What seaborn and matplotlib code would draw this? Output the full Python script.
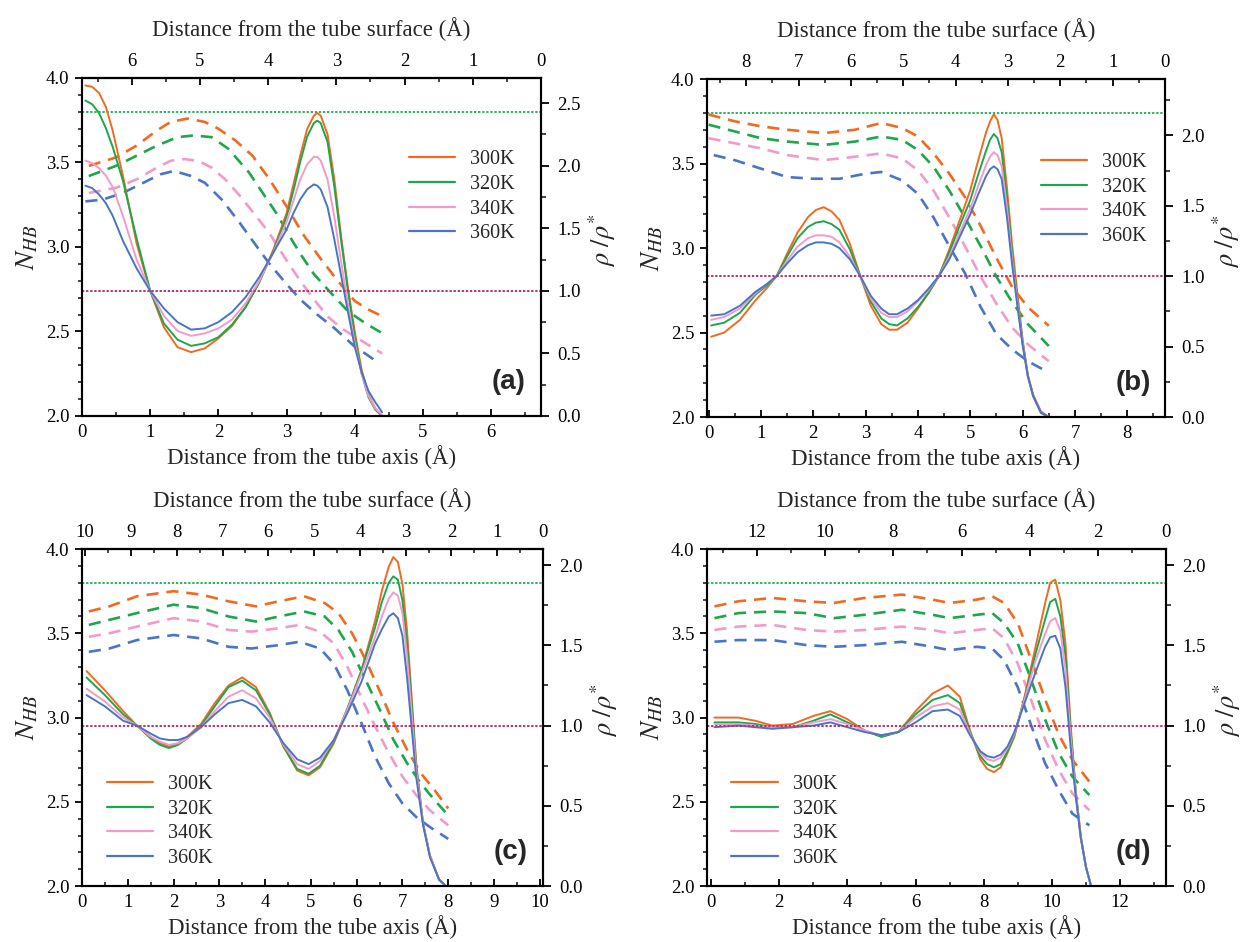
import seaborn as sns
import matplotlib.pyplot as plt
from matplotlib.ticker import MultipleLocator
from matplotlib.lines import Line2D

sns.set_theme(style='ticks')
plt.rcParams['font.family'] = ['Liberation Serif', 'DejaVu Serif']
plt.rcParams['mathtext.fontset'] = 'stix'

TEMPS = ['300K', '320K', '340K', '360K']
COLORS = ['#F26A22', '#1FA64C', '#F49AC9', '#4A74C6']
GREEN_REF = '#2DB45E'
PURPLE_REF = '#C0306E'

# ---------------- panel (a) ----------------
A_R_RHO = [0.05, 0.15, 0.25, 0.35, 0.45, 0.6, 0.8, 1.0, 1.2, 1.4, 1.6, 1.8, 2.0, 2.2, 2.4,
           2.6, 2.8, 3.0, 3.1, 3.2, 3.3, 3.4, 3.45, 3.5, 3.6, 3.7, 3.8, 3.9, 4.0, 4.1, 4.2,
           4.3, 4.4]
A_RHO_300 = [2.64, 2.63, 2.58, 2.47, 2.28, 1.92, 1.38, 1.0, 0.71, 0.55, 0.51, 0.54, 0.62, 0.72,
             0.87, 1.07, 1.32, 1.62, 1.85, 2.08, 2.29, 2.40, 2.42, 2.40, 2.25, 1.89, 1.43, 1.02,
             0.67, 0.37, 0.17, 0.06, 0.0]
A_RHO_320 = [2.52, 2.49, 2.42, 2.30, 2.15, 1.88, 1.42, 1.0, 0.74, 0.61, 0.56, 0.58, 0.63, 0.73,
             0.87, 1.07, 1.31, 1.59, 1.80, 2.03, 2.23, 2.34, 2.36, 2.34, 2.19, 1.83, 1.40, 1.00,
             0.63, 0.34, 0.15, 0.05, 0.0]
A_RHO_340 = [2.04, 2.02, 1.98, 1.92, 1.83, 1.60, 1.25, 1.0, 0.80, 0.68, 0.64, 0.66, 0.70, 0.77,
             0.90, 1.08, 1.30, 1.55, 1.72, 1.89, 2.01, 2.07, 2.07, 2.04, 1.89, 1.59, 1.23, 0.89,
             0.58, 0.34, 0.16, 0.06, 0.01]
A_RHO_360 = [1.84, 1.82, 1.77, 1.70, 1.60, 1.40, 1.18, 1.0, 0.86, 0.75, 0.69, 0.70, 0.75, 0.83,
             0.95, 1.11, 1.30, 1.49, 1.62, 1.73, 1.81, 1.85, 1.84, 1.81, 1.67, 1.41, 1.12, 0.83,
             0.55, 0.35, 0.20, 0.11, 0.03]

A_R_NHB_300 = [0.1, 0.5, 0.8, 1.1, 1.3, 1.55, 1.8, 2.0, 2.25, 2.5, 2.75, 3.0, 3.25, 3.5, 3.75,
               4.0, 4.2, 4.4]
A_NHB_300 = [3.48, 3.53, 3.60, 3.69, 3.74, 3.76, 3.74, 3.70, 3.63, 3.54, 3.40, 3.24, 3.07, 2.93,
             2.80, 2.68, 2.63, 2.59]
A_R_NHB_320 = [0.1, 0.5, 0.8, 1.1, 1.4, 1.64, 1.9, 2.15, 2.45, 2.65, 2.85, 3.05, 3.2, 3.4, 3.6,
               3.9, 4.15, 4.4]
A_NHB_320 = [3.42, 3.48, 3.54, 3.60, 3.65, 3.66, 3.65, 3.58, 3.44, 3.32, 3.20, 3.06, 2.96, 2.84,
             2.75, 2.62, 2.55, 2.49]
A_R_NHB_340 = [0.1, 0.5, 0.8, 1.1, 1.3, 1.5, 1.7, 1.9, 2.1, 2.3, 2.5, 2.75, 3.0, 3.2, 3.4, 3.6,
               3.8, 4.0, 4.2, 4.4]
A_NHB_340 = [3.32, 3.35, 3.40, 3.47, 3.51, 3.52, 3.51, 3.47, 3.40, 3.31, 3.21, 3.08, 2.92, 2.80,
             2.69, 2.59, 2.52, 2.47, 2.42, 2.37]
A_R_NHB_360 = [0.05, 0.3, 0.6, 0.9, 1.15, 1.35, 1.6, 1.8, 2.05, 2.3, 2.55, 2.75, 3.0, 3.2, 3.45,
               3.7, 4.0, 4.15, 4.33]
A_NHB_360 = [3.27, 3.28, 3.32, 3.38, 3.43, 3.45, 3.42, 3.38, 3.28, 3.15, 3.01, 2.90, 2.78, 2.69,
             2.60, 2.52, 2.41, 2.37, 2.32]

# ---------------- panel (b) ----------------
B_R_RHO = [0.05, 0.3, 0.6, 0.9, 1.1, 1.3, 1.5, 1.7, 1.9, 2.05, 2.2, 2.35, 2.5, 2.7, 2.9, 3.1,
           3.3, 3.45, 3.6, 3.8, 4.0, 4.2, 4.4, 4.6, 4.8, 5.0, 5.15, 5.3, 5.38, 5.45, 5.52, 5.6,
           5.7, 5.8, 5.9, 6.0, 6.1, 6.2, 6.35, 6.5]
B_RHO_300 = [0.57, 0.60, 0.69, 0.83, 0.91, 1.0, 1.16, 1.31, 1.42, 1.47, 1.49, 1.46, 1.40, 1.23,
             1.0, 0.79, 0.66, 0.62, 0.62, 0.67, 0.77, 0.88, 1.0, 1.19, 1.40, 1.61, 1.82, 2.02,
             2.10, 2.15, 2.11, 1.98, 1.63, 1.22, 0.88, 0.55, 0.30, 0.16, 0.04, 0.0]
B_RHO_320 = [0.65, 0.67, 0.74, 0.87, 0.93, 1.0, 1.14, 1.27, 1.35, 1.38, 1.39, 1.37, 1.33, 1.19,
             1.0, 0.82, 0.70, 0.66, 0.65, 0.70, 0.78, 0.88, 1.0, 1.17, 1.36, 1.54, 1.72, 1.89,
             1.97, 2.01, 1.98, 1.88, 1.56, 1.16, 0.83, 0.53, 0.29, 0.15, 0.03, 0.0]
B_RHO_340 = [0.69, 0.71, 0.77, 0.88, 0.94, 1.0, 1.11, 1.21, 1.27, 1.29, 1.29, 1.28, 1.24, 1.14,
             1.0, 0.84, 0.74, 0.71, 0.71, 0.75, 0.82, 0.90, 1.0, 1.14, 1.31, 1.48, 1.64, 1.79,
             1.85, 1.88, 1.86, 1.78, 1.49, 1.12, 0.81, 0.52, 0.29, 0.15, 0.03, 0.0]
B_RHO_360 = [0.72, 0.73, 0.79, 0.89, 0.94, 1.0, 1.09, 1.17, 1.22, 1.24, 1.24, 1.23, 1.20, 1.12,
             1.0, 0.86, 0.77, 0.73, 0.73, 0.77, 0.83, 0.91, 1.0, 1.12, 1.28, 1.44, 1.58, 1.71,
             1.76, 1.78, 1.76, 1.69, 1.42, 1.08, 0.79, 0.51, 0.29, 0.15, 0.03, 0.0]

B_R_NHB = [0.0, 0.5, 1.0, 1.5, 2.2, 2.8, 3.3, 3.7, 4.0, 4.3, 4.6, 4.9, 5.2, 5.5, 5.8, 6.1, 6.5]
B_NHB_300 = [3.79, 3.75, 3.72, 3.70, 3.68, 3.70, 3.74, 3.71, 3.66, 3.56, 3.44, 3.30, 3.13,
             2.94, 2.77, 2.65, 2.54]
B_NHB_320 = [3.73, 3.69, 3.65, 3.63, 3.61, 3.63, 3.66, 3.64, 3.58, 3.48, 3.34, 3.18, 3.01,
             2.83, 2.68, 2.55, 2.42]
B_NHB_340 = [3.65, 3.62, 3.59, 3.55, 3.52, 3.54, 3.56, 3.53, 3.46, 3.34, 3.18, 3.01, 2.83,
             2.67, 2.53, 2.43, 2.33]
B_R_NHB_360 = [0.1, 0.5, 1.0, 1.5, 2.0, 2.5, 3.0, 3.3, 3.7, 4.0, 4.3, 4.6, 4.9, 5.2, 5.5,
               5.8, 6.1, 6.4]
B_NHB_360 = [3.55, 3.52, 3.47, 3.42, 3.41, 3.41, 3.44, 3.45, 3.40, 3.32, 3.18, 3.01, 2.85,
             2.65, 2.49, 2.40, 2.33, 2.28]

# ---------------- panel (c) ----------------
C_R_RHO = [0.1, 0.5, 0.9, 1.2, 1.5, 1.7, 1.9, 2.1, 2.3, 2.6, 2.9, 3.2, 3.5, 3.8, 4.1, 4.4,
           4.7, 4.95, 5.2, 5.5, 5.8, 6.1, 6.4, 6.55, 6.7, 6.8, 6.9, 7.0, 7.1, 7.2, 7.3, 7.45,
           7.6, 7.8, 7.95]
C_RHO_300 = [1.34, 1.22, 1.09, 1.0, 0.93, 0.89, 0.87, 0.89, 0.93, 1.01, 1.14, 1.25, 1.30, 1.24,
             1.08, 0.87, 0.72, 0.69, 0.74, 0.89, 1.10, 1.34, 1.65, 1.84, 1.99, 2.05, 2.02, 1.88,
             1.59, 1.18, 0.77, 0.39, 0.19, 0.04, 0.0]
C_RHO_320 = [1.30, 1.19, 1.07, 1.0, 0.92, 0.88, 0.86, 0.88, 0.92, 1.00, 1.12, 1.24, 1.28, 1.22,
             1.07, 0.87, 0.73, 0.70, 0.75, 0.90, 1.11, 1.34, 1.61, 1.77, 1.89, 1.93, 1.91, 1.78,
             1.51, 1.14, 0.74, 0.39, 0.19, 0.04, 0.0]
C_RHO_340 = [1.23, 1.15, 1.05, 1.0, 0.93, 0.90, 0.88, 0.89, 0.92, 0.99, 1.09, 1.18, 1.22, 1.17,
             1.05, 0.88, 0.76, 0.73, 0.78, 0.91, 1.10, 1.32, 1.55, 1.68, 1.79, 1.83, 1.81, 1.70,
             1.43, 1.08, 0.72, 0.39, 0.19, 0.04, 0.0]
C_RHO_360 = [1.19, 1.12, 1.03, 1.0, 0.95, 0.92, 0.91, 0.91, 0.93, 0.99, 1.07, 1.14, 1.16, 1.12,
             1.02, 0.89, 0.79, 0.76, 0.80, 0.91, 1.08, 1.27, 1.51, 1.60, 1.68, 1.70, 1.67, 1.56,
             1.30, 0.99, 0.68, 0.38, 0.18, 0.04, 0.0]

C_R_NHB_A = [0.15, 0.6, 1.2, 2.0, 2.6, 3.2, 3.8, 4.3, 4.85, 5.3, 5.6, 5.9, 6.2, 6.5, 6.8,
             7.1, 7.4, 7.7, 8.0]
C_NHB_300 = [3.63, 3.66, 3.72, 3.75, 3.73, 3.69, 3.66, 3.69, 3.72, 3.68, 3.62, 3.50, 3.34,
             3.16, 2.97, 2.81, 2.67, 2.57, 2.46]
C_NHB_320 = [3.55, 3.58, 3.62, 3.67, 3.65, 3.60, 3.57, 3.60, 3.63, 3.60, 3.52, 3.39, 3.22,
             3.05, 2.87, 2.73, 2.61, 2.51, 2.42]
C_R_NHB_B = [0.15, 0.6, 1.2, 2.0, 2.6, 3.2, 3.7, 4.3, 4.75, 5.2, 5.5, 5.8, 6.1, 6.4, 6.7,
             7.0, 7.3, 7.6, 8.0]
C_NHB_340 = [3.48, 3.50, 3.54, 3.59, 3.57, 3.52, 3.51, 3.53, 3.55, 3.51, 3.44, 3.30, 3.12,
             2.95, 2.79, 2.65, 2.54, 2.45, 2.36]
C_NHB_360 = [3.39, 3.41, 3.46, 3.49, 3.47, 3.42, 3.41, 3.43, 3.45, 3.41, 3.32, 3.16, 2.97,
             2.77, 2.61, 2.49, 2.41, 2.35, 2.28]

# ---------------- panel (d) ----------------
D_R_RHO = [0.1, 0.8, 1.3, 1.8, 2.4, 3.0, 3.5, 4.0, 4.5, 5.0, 5.5, 6.0, 6.5, 6.95, 7.3, 7.6,
           7.9, 8.1, 8.3, 8.5, 8.7, 8.9, 9.2, 9.5, 9.8, 9.95, 10.1, 10.25, 10.4, 10.55, 10.7,
           10.85, 11.0, 11.15]
D_RHO_300 = [1.05, 1.05, 1.03, 1.00, 1.01, 1.06, 1.09, 1.04, 0.97, 0.93, 0.96, 1.09, 1.20,
             1.25, 1.18, 0.97, 0.79, 0.73, 0.71, 0.74, 0.83, 0.93, 1.18, 1.47, 1.76, 1.89,
             1.91, 1.78, 1.51, 1.01, 0.60, 0.31, 0.12, 0.0]
D_RHO_320 = [1.02, 1.02, 1.01, 0.99, 0.99, 1.03, 1.07, 1.02, 0.97, 0.93, 0.96, 1.07, 1.16,
             1.19, 1.14, 0.96, 0.81, 0.76, 0.74, 0.76, 0.84, 0.94, 1.17, 1.43, 1.66, 1.77,
             1.79, 1.68, 1.43, 0.97, 0.59, 0.30, 0.12, 0.0]
D_RHO_340 = [1.01, 1.01, 1.00, 0.99, 0.99, 1.02, 1.04, 1.01, 0.97, 0.94, 0.96, 1.05, 1.12,
             1.14, 1.10, 0.95, 0.83, 0.79, 0.78, 0.80, 0.86, 0.95, 1.16, 1.39, 1.57, 1.65,
             1.67, 1.59, 1.35, 0.93, 0.58, 0.30, 0.12, 0.0]
D_RHO_360 = [0.99, 1.00, 0.99, 0.98, 0.99, 1.00, 1.02, 0.99, 0.96, 0.94, 0.96, 1.02, 1.09,
             1.10, 1.06, 0.94, 0.84, 0.81, 0.80, 0.82, 0.87, 0.96, 1.14, 1.32, 1.49, 1.55,
             1.56, 1.48, 1.24, 0.87, 0.56, 0.30, 0.12, 0.0]

D_R_NHB = [0.1, 0.8, 1.8, 2.8, 3.6, 4.5, 5.6, 6.5, 7.0, 7.8, 8.25, 8.6, 9.0, 9.4, 9.8,
           10.2, 10.6, 11.1]
D_NHB_300 = [3.66, 3.69, 3.71, 3.69, 3.68, 3.71, 3.73, 3.70, 3.68, 3.70, 3.72, 3.68, 3.56,
             3.34, 3.11, 2.90, 2.75, 2.62]
D_NHB_320 = [3.59, 3.62, 3.63, 3.62, 3.59, 3.61, 3.64, 3.61, 3.59, 3.61, 3.62, 3.56, 3.44,
             3.22, 2.99, 2.79, 2.65, 2.54]
D_NHB_340 = [3.52, 3.54, 3.55, 3.52, 3.51, 3.52, 3.54, 3.52, 3.50, 3.52, 3.53, 3.47, 3.32,
             3.10, 2.87, 2.69, 2.55, 2.45]
D_NHB_360 = [3.45, 3.46, 3.46, 3.43, 3.42, 3.43, 3.45, 3.42, 3.40, 3.42, 3.41, 3.34, 3.18,
             2.95, 2.73, 2.57, 2.43, 2.36]

NHB_REF = 3.8
RHO_REF = 1.0


def draw_panel(rect, rho_x, rho_sets, nhb_sets, xlim, radius, rho_top, rho_minor,
               x_major, x_minor, tag, leg_anchor):
    ax = fig.add_axes(rect)
    ax2 = ax.twinx()

    # N_HB (dashed, left axis)
    for (rx, vals), c in zip(nhb_sets, COLORS):
        sns.lineplot(x=rx, y=vals, ax=ax, color=c, lw=1.9, linestyle=(0, (4.6, 3.0)),
                     estimator=None, errorbar=None, sort=False)
    ax.axhline(NHB_REF, color=GREEN_REF, ls=(0, (1.2, 0.9)), lw=1.4)

    # density (solid, right axis)
    for vals, c in zip(rho_sets, COLORS):
        sns.lineplot(x=rho_x, y=vals, ax=ax2, color=c, lw=1.4,
                     estimator=None, errorbar=None, sort=False)
    ax2.axhline(RHO_REF, color=PURPLE_REF, ls=(0, (1.2, 0.9)), lw=1.4)

    ax.set_xlim(*xlim)
    ax.set_ylim(2.0, 4.0)
    ax2.set_ylim(0.0, rho_top)

    ax.yaxis.set_major_locator(MultipleLocator(0.5))
    ax.yaxis.set_minor_locator(MultipleLocator(0.1))
    ax.yaxis.set_major_formatter('{x:.1f}')
    ax2.yaxis.set_major_locator(MultipleLocator(0.5))
    ax2.yaxis.set_minor_locator(MultipleLocator(rho_minor))
    ax2.yaxis.set_major_formatter('{x:.1f}')
    ax.xaxis.set_major_locator(MultipleLocator(x_major))
    ax.xaxis.set_minor_locator(MultipleLocator(x_minor))

    top = ax.secondary_xaxis('top', functions=(lambda x: radius - x, lambda x: radius - x))
    top.xaxis.set_major_locator(MultipleLocator(x_major))
    top.xaxis.set_minor_locator(MultipleLocator(x_minor))

    for a in (ax, ax2):
        for s in a.spines.values():
            s.set_linewidth(1.5)
            s.set_color('black')
    for s in top.spines.values():
        s.set_linewidth(1.5)

    ax.tick_params(axis='y', which='major', direction='out', length=5, width=1.3,
                   labelsize=13.5, pad=4, colors='black', left=True, right=False)
    ax.tick_params(axis='y', which='minor', direction='out', length=3, width=1.2, left=True)
    ax.tick_params(axis='x', which='major', direction='in', length=5, width=1.3,
                   labelsize=13.5, pad=6, colors='black', bottom=True, top=False)
    ax.tick_params(axis='x', which='minor', direction='in', length=3, width=1.2, bottom=True)
    ax2.tick_params(axis='y', which='major', direction='out', length=5.5, width=1.3,
                    labelsize=13.5, pad=6, colors='black', right=True)
    ax2.tick_params(axis='y', which='minor', direction='out', length=3.5, width=1.2, right=True)
    top.tick_params(axis='x', which='major', direction='in', length=5, width=1.3,
                    labelsize=13.5, pad=6, colors='black')
    top.tick_params(axis='x', which='minor', direction='in', length=3, width=1.2)

    ax.set_ylabel(r'$N_{HB}$', fontsize=19.5)
    ax.yaxis.set_label_coords(-0.09, 0.5)
    ax2.set_ylabel(r'$\rho\ /\rho^{*}$', fontsize=19)
    ax2.yaxis.set_label_coords(1.098, 0.52)
    ax.set_xlabel('Distance from the tube axis (Å)', fontsize=16.5, labelpad=3)
    top.set_xlabel('Distance from the tube surface (Å)', fontsize=16.5, labelpad=12)

    handles = [Line2D([], [], color=c, lw=1.6) for c in COLORS]
    ax2.legend(handles, TEMPS, loc='upper left', bbox_to_anchor=leg_anchor, frameon=False,
               fontsize=14.5, handlelength=2.3, handletextpad=0.75, labelspacing=0.28,
               borderpad=0, borderaxespad=0)
    ax2.text(0.93, 0.10, tag, transform=ax2.transAxes, fontsize=20, fontweight='bold',
             family='Liberation Sans', ha='center', va='center')
    return ax


fig = plt.figure(figsize=(12.44, 9.42), dpi=100)

draw_panel([0.0659, 0.5584, 0.3690, 0.3588], A_R_RHO,
           [A_RHO_300, A_RHO_320, A_RHO_340, A_RHO_360],
           [(A_R_NHB_300, A_NHB_300), (A_R_NHB_320, A_NHB_320),
            (A_R_NHB_340, A_NHB_340), (A_R_NHB_360, A_NHB_360)],
           (0, 6.73), 6.73, 2.70, 0.25, 1, 0.5, '(a)', (0.712, 0.787))

draw_panel([0.5683, 0.5573, 0.3682, 0.3588], B_R_RHO,
           [B_RHO_300, B_RHO_320, B_RHO_340, B_RHO_360],
           [(B_R_NHB, B_NHB_300), (B_R_NHB, B_NHB_320),
            (B_R_NHB, B_NHB_340), (B_R_NHB_360, B_NHB_360)],
           (-0.03, 8.72), 8.72, 2.40, 0.25, 1, 0.5, '(b)', (0.729, 0.782))

draw_panel([0.0659, 0.0594, 0.3706, 0.3577], C_R_RHO,
           [C_RHO_300, C_RHO_320, C_RHO_340, C_RHO_360],
           [(C_R_NHB_A, C_NHB_300), (C_R_NHB_A, C_NHB_320),
            (C_R_NHB_B, C_NHB_340), (C_R_NHB_B, C_NHB_360)],
           (0, 10.07), 10.07, 2.10, 0.25, 1, 0.5, '(c)', (0.054, 0.33))

draw_panel([0.5683, 0.0594, 0.3690, 0.3577], D_R_RHO,
           [D_RHO_300, D_RHO_320, D_RHO_340, D_RHO_360],
           [(D_R_NHB, D_NHB_300), (D_R_NHB, D_NHB_320),
            (D_R_NHB, D_NHB_340), (D_R_NHB, D_NHB_360)],
           (-0.12, 13.35), 13.35, 2.10, 0.25, 2, 1, '(d)', (0.053, 0.33))

fig.savefig('out.png', dpi=100)
